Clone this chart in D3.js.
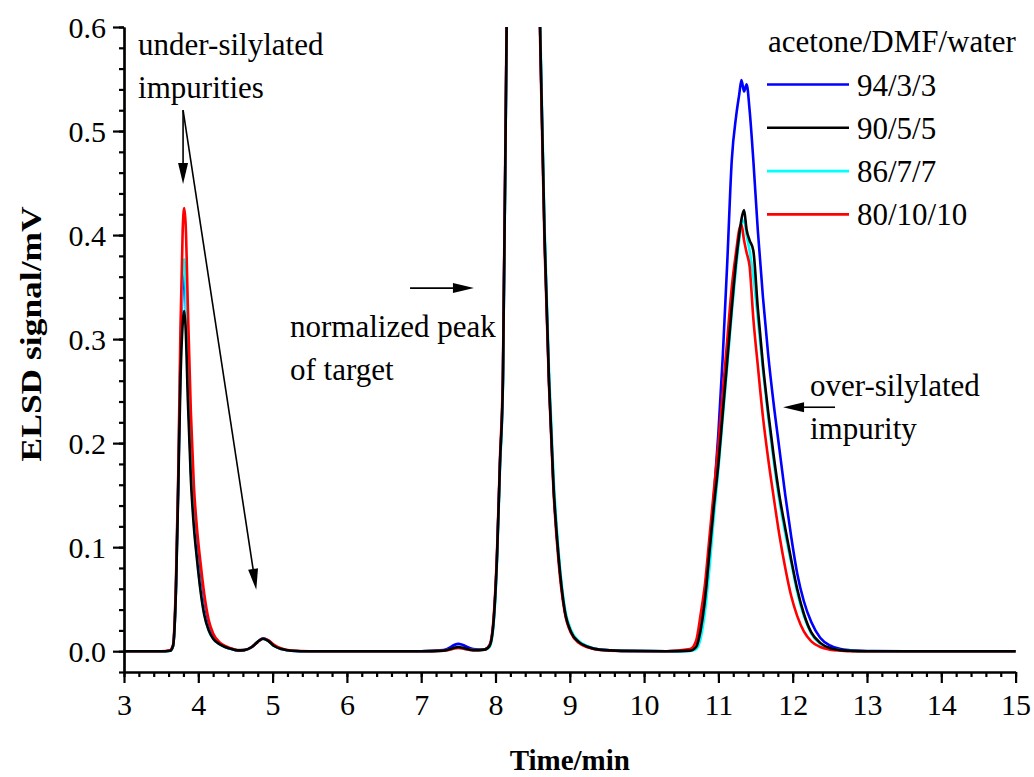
<!DOCTYPE html>
<html>
<head>
<meta charset="utf-8">
<script src="https://cdn.jsdelivr.net/npm/d3@7"></script>
<style>
  body { margin: 0; background: #fff; }
  svg { display: block; }
  text { font-family: "Liberation Serif", "Times New Roman", serif; fill: #000; }
</style>
</head>
<body>
<svg id="chart" width="1034" height="777"></svg>
<script>
// retention time (min)
const time = [3.0, 3.5, 3.62, 3.66, 3.7, 3.73, 3.76, 3.79, 3.81, 3.83, 3.86, 3.9, 3.94, 3.98, 4.03, 4.08, 4.14, 4.2, 4.28, 4.36,
  4.45, 4.53, 4.62, 4.72, 4.8, 4.87, 4.94, 5.02, 5.12, 5.25, 5.5, 6.0, 7.0, 7.3, 7.5, 7.7, 7.85, 7.92, 7.97, 8.02,
  8.06, 8.1, 8.15, 8.22, 8.3, 8.38, 8.46, 8.54, 8.6, 8.66, 8.72, 8.78, 8.85, 8.93, 9.02, 9.12, 9.25, 9.4, 9.7, 10.3,
  10.62, 10.7, 10.76, 10.82, 10.88, 10.94, 11.0, 11.06, 11.12, 11.18, 11.24, 11.28, 11.31, 11.345, 11.38, 11.42, 11.47, 11.53, 11.6, 11.67,
  11.74, 11.82, 11.9, 11.98, 12.06, 12.15, 12.25, 12.37, 12.5, 12.65, 12.8, 13.0, 13.5, 15.0];

// ELSD signal (mV) for each solvent ratio
const blue = [0, 0, 0.0005, 0.005, 0.062, 0.16, 0.28, 0.35, 0.362, 0.34, 0.26, 0.175, 0.13, 0.1, 0.065, 0.04, 0.022, 0.013, 0.0075, 0.0042,
  0.002, 0.0008, 0.001, 0.004, 0.009, 0.0125, 0.0105, 0.0055, 0.002, 0.0005, 0, 0, 0, 0.001, 0.007, 0.002, 0.0015, 0.005, 0.025, 0.09,
  0.18, 0.26, 0.6, 0.95, 1.15, 1.2, 1.1, 0.82, 0.6, 0.4, 0.26, 0.16, 0.09, 0.04, 0.018, 0.009, 0.004, 0.0015, 0.0003, 0,
  0.0005, 0.004, 0.02, 0.05, 0.095, 0.15, 0.21, 0.285, 0.375, 0.472, 0.515, 0.535, 0.549, 0.538, 0.545, 0.52, 0.472, 0.405, 0.34, 0.285,
  0.24, 0.195, 0.15, 0.11, 0.075, 0.048, 0.028, 0.013, 0.0055, 0.002, 0.0007, 0.0002, 0, 0];

const black = [0, 0, 0.0005, 0.005, 0.06, 0.155, 0.26, 0.315, 0.327, 0.31, 0.24, 0.165, 0.12, 0.09, 0.058, 0.035, 0.02, 0.012, 0.007, 0.004,
  0.002, 0.0008, 0.001, 0.004, 0.009, 0.012, 0.01, 0.005, 0.002, 0.0005, 0, 0, 0, 0.0005, 0.004, 0.001, 0.0015, 0.005, 0.025, 0.09,
  0.18, 0.26, 0.6, 0.95, 1.15, 1.2, 1.1, 0.82, 0.6, 0.4, 0.26, 0.16, 0.09, 0.04, 0.018, 0.009, 0.004, 0.0015, 0.0003, 0,
  0.0005, 0.004, 0.02, 0.05, 0.095, 0.14, 0.18, 0.23, 0.28, 0.33, 0.376, 0.4, 0.415, 0.424, 0.405, 0.395, 0.385, 0.33, 0.275, 0.23,
  0.19, 0.15, 0.118, 0.088, 0.06, 0.036, 0.018, 0.008, 0.003, 0.001, 0.0003, 0, 0, 0];

const cyan = [0, 0, 0.0005, 0.005, 0.065, 0.165, 0.29, 0.365, 0.377, 0.35, 0.27, 0.18, 0.125, 0.092, 0.06, 0.036, 0.02, 0.012, 0.007, 0.004,
  0.002, 0.0008, 0.001, 0.004, 0.009, 0.012, 0.01, 0.005, 0.002, 0.0005, 0, 0, 0, 0.0005, 0.003, 0.001, 0.0015, 0.004, 0.022, 0.085,
  0.175, 0.255, 0.59, 0.95, 1.15, 1.2, 1.1, 0.83, 0.61, 0.41, 0.27, 0.17, 0.095, 0.043, 0.02, 0.01, 0.0045, 0.0015, 0.0003, 0,
  0.0003, 0.002, 0.012, 0.038, 0.08, 0.13, 0.175, 0.225, 0.275, 0.325, 0.37, 0.395, 0.41, 0.414, 0.4, 0.385, 0.36, 0.32, 0.27, 0.225,
  0.185, 0.145, 0.113, 0.085, 0.057, 0.034, 0.017, 0.007, 0.0025, 0.0008, 0.0002, 0, 0, 0];

const red = [0, 0, 0.001, 0.006, 0.07, 0.17, 0.31, 0.405, 0.426, 0.41, 0.33, 0.23, 0.16, 0.12, 0.085, 0.055, 0.03, 0.017, 0.009, 0.005,
  0.0025, 0.001, 0.0012, 0.004, 0.009, 0.012, 0.0105, 0.006, 0.0025, 0.0007, 0, 0, 0, 0.0005, 0.003, 0.001, 0.0015, 0.006, 0.028, 0.095,
  0.185, 0.27, 0.61, 0.95, 1.15, 1.2, 1.1, 0.81, 0.59, 0.39, 0.255, 0.155, 0.085, 0.038, 0.017, 0.008, 0.0035, 0.0012, 0.0002, 0,
  0.002, 0.01, 0.035, 0.065, 0.11, 0.155, 0.2, 0.25, 0.3, 0.35, 0.385, 0.405, 0.41, 0.395, 0.383, 0.37, 0.32, 0.275, 0.225, 0.185,
  0.15, 0.112, 0.08, 0.053, 0.034, 0.019, 0.0095, 0.004, 0.0015, 0.0005, 0, 0, 0, 0];

const seriesNames = ["94/3/3", "90/5/5", "86/7/7", "80/10/10"];
const seriesColors = ["#0000ff", "#000000", "#00ffff", "#ff0000"];
const seriesValues = [blue, black, cyan, red];
const drawOrder = [0, 2, 3, 1];

const xTicks = [3, 4, 5, 6, 7, 8, 9, 10, 11, 12, 13, 14, 15];
const yTicks = [0.0, 0.1, 0.2, 0.3, 0.4, 0.5, 0.6];

const svg = d3.select("#chart");
const x = d3.scaleLinear().domain([3, 15]).range([124, 1015.6]);
const y = d3.scaleLinear().domain([-0.02, 0.6]).range([672, 27]);

svg.append("clipPath").attr("id", "plotClip")
  .append("rect").attr("x", x(3)).attr("y", y(0.6)).attr("width", x(15) - x(3) + 2).attr("height", y(-0.02) - y(0.6));

const line = d3.line()
  .x((d, i) => x(time[i]))
  .y(d => y(d))
  .curve(d3.curveMonotoneX);

const plot = svg.append("g").attr("clip-path", "url(#plotClip)");
drawOrder.forEach(k => {
  plot.append("path")
    .attr("d", line(seriesValues[k]))
    .attr("fill", "none")
    .attr("stroke", seriesColors[k])
    .attr("stroke-width", 2.6)
    .attr("stroke-linejoin", "round");
});

// axes
const xMinor = d3.range(3, 15.001, 0.2).map(v => +v.toFixed(1));
const yMinor = d3.range(-0.02, 0.6001, 0.02).map(v => +v.toFixed(2));

const xAxisG = svg.append("g").attr("transform", `translate(0,${y(-0.02)})`);
xAxisG.call(d3.axisBottom(x).tickValues(xMinor).tickSize(5).tickFormat("").tickSizeOuter(0));
xAxisG.call(g => g.append("g").call(d3.axisBottom(x).tickValues(xTicks).tickSize(11).tickSizeOuter(0).tickPadding(11).tickFormat(d3.format("d"))));

const yAxisG = svg.append("g").attr("transform", `translate(${x(3)},0)`);
yAxisG.call(d3.axisLeft(y).tickValues(yMinor).tickSize(5).tickFormat("").tickSizeOuter(0));
yAxisG.call(g => g.append("g").call(d3.axisLeft(y).tickValues(yTicks).tickSize(11).tickSizeOuter(0).tickPadding(7).tickFormat(d3.format(".1f"))));

svg.selectAll(".domain").attr("stroke", "#000").attr("stroke-width", 2.2);
svg.selectAll(".tick line").attr("stroke", "#000").attr("stroke-width", 2.2);
svg.selectAll(".tick text").attr("font-family", "Liberation Serif").attr("font-size", 30).attr("fill", "#000");
xAxisG.selectAll(".tick text").attr("dy", "0.71em");
yAxisG.selectAll(".tick text").attr("dy", "0.35em");

svg.append("text")
  .attr("x", (x(3) + x(15)) / 2).attr("y", 770)
  .attr("text-anchor", "middle").attr("font-weight", "bold").attr("font-size", 29)
  .text("Time/min");

svg.append("text")
  .attr("transform", `translate(41,${y(0.305)}) rotate(-90)`)
  .attr("text-anchor", "middle").attr("font-weight", "bold").attr("font-size", 29)
  .attr("textLength", 255).attr("lengthAdjust", "spacingAndGlyphs")
  .text("ELSD signal/mV");

// legend
const legend = svg.append("g");
legend.append("text").attr("x", 768).attr("y", 52).attr("font-size", 31).text("acetone/DMF/water");
seriesNames.forEach((name, i) => {
  const ly = 84.5 + i * 43.3;
  legend.append("line").attr("x1", 767).attr("x2", 849).attr("y1", ly).attr("y2", ly)
    .attr("stroke", seriesColors[i]).attr("stroke-width", 2.6);
  legend.append("text").attr("x", 857).attr("y", ly + 11).attr("font-size", 31).text(name);
});

// annotations (data coordinates)
const notes = [
  { t: 3.19, v: 0.573, text: "under-silylated" },
  { t: 3.19, v: 0.532, text: "impurities" },
  { t: 5.234, v: 0.302, text: "normalized peak" },
  { t: 5.234, v: 0.261, text: "of target" },
  { t: 12.233, v: 0.245, text: "over-silylated" },
  { t: 12.233, v: 0.204, text: "impurity" }
];
const arrows = [
  { t0: 3.795, v0: 0.520, t1: 3.795, v1: 0.449 },
  { t0: 3.795, v0: 0.520, t1: 4.78, v1: 0.059 },
  { t0: 6.85, v0: 0.349, t1: 7.71, v1: 0.349 },
  { t0: 12.57, v0: 0.2345, t1: 11.87, v1: 0.2345 }
];

svg.selectAll(".note").data(notes).enter().append("text")
  .attr("class", "note")
  .attr("x", d => x(d.t)).attr("y", d => y(d.v))
  .attr("font-size", 31)
  .text(d => d.text);

arrows.forEach(a => {
  const x0 = x(a.t0), y0 = y(a.v0), x1 = x(a.t1), y1 = y(a.v1);
  const ang = Math.atan2(y1 - y0, x1 - x0);
  const len = 21, hw = 5;
  const bx = x1 - len * Math.cos(ang), by = y1 - len * Math.sin(ang);
  svg.append("line").attr("x1", x0).attr("y1", y0).attr("x2", bx).attr("y2", by)
    .attr("stroke", "#000").attr("stroke-width", 1.6);
  const pts = [
    [x1, y1],
    [bx + hw * Math.sin(ang), by - hw * Math.cos(ang)],
    [bx - hw * Math.sin(ang), by + hw * Math.cos(ang)]
  ];
  svg.append("path").attr("d", "M" + pts.map(p => p.join(",")).join("L") + "Z").attr("fill", "#000");
});
</script>
</body>
</html>
